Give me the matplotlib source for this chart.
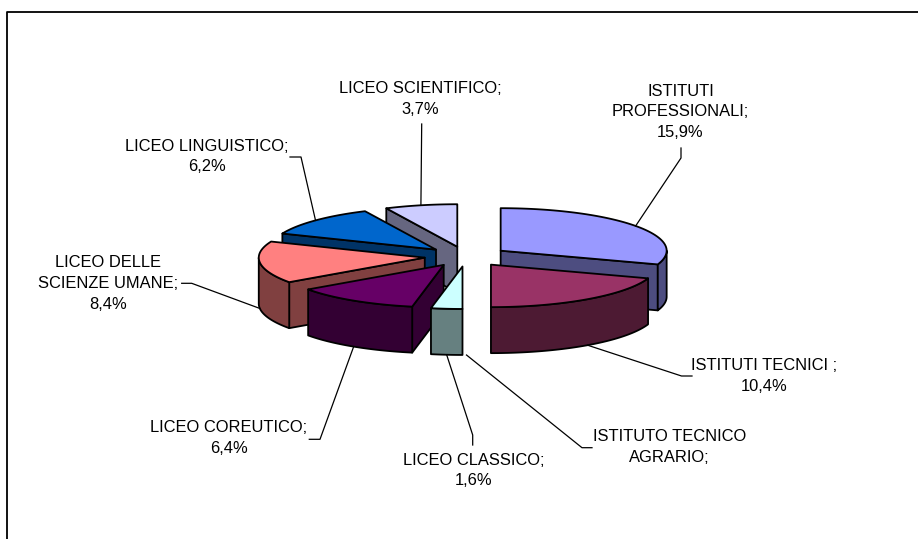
import numpy as np
import matplotlib
matplotlib.use('Agg')
import matplotlib.pyplot as plt
from matplotlib.colors import to_rgb
from matplotlib.patches import Polygon

plt.rcParams['font.family'] = ['Liberation Sans', 'DejaVu Sans']

categories = ['ISTITUTI\nPROFESSIONALI;', 'ISTITUTI TECNICI ;', 'ISTITUTO TECNICO\nAGRARIO;',
              'LICEO CLASSICO;', 'LICEO COREUTICO;', 'LICEO DELLE\nSCIENZE UMANE;',
              'LICEO LINGUISTICO;', 'LICEO SCIENTIFICO;']
values = [15.9, 10.4, 0, 1.6, 6.4, 8.4, 6.2, 3.7]
value_labels = ['15,9%', '10,4%', '', '1,6%', '6,4%', '8,4%', '6,2%', '3,7%']
colors = ['#9999FF', '#993366', '#FFFFCC', '#CCFFFF', '#660066', '#FF8080', '#0066CC', '#CCCCFF']

# pie geometry in pixels
cx, cy = 466.5, 256.5
rx, ry = 166, 42.5
depth = 46
explode_x, explode_y = 42, 10

# label centre and leader elbows, in pixels
label_pos = [(680.5, 112), (764.5, 376), (669.5, 447), (473.3, 470.5),
             (229, 438), (108, 283.5), (206.7, 156.5), (420, 99)]
elbows = [[(681, 158), (681, 148)],
          [(681.5, 376), (692, 376)],
          [(582, 447.7), (592, 447.7)],
          [(472.7, 435), (472.7, 445)],
          [(320, 439.3), (309.3, 439.3)],
          [(191.7, 283.3), (181.7, 283.3)],
          [(301, 157), (290, 157)],
          [(421.7, 124)]]


def arc(a0, a1, ox, oy, n=60):
    t = np.linspace(a0, a1, n)
    return np.column_stack([ox + rx * np.sin(t), oy - ry * np.cos(t)])


def face(ax, pts, col):
    ax.add_patch(Polygon(pts, closed=True, facecolor=col, edgecolor='black', lw=1.3, joinstyle='round'))


fig = plt.figure(figsize=(9.18, 5.39), dpi=100)
ax = fig.add_axes([0, 0, 1, 1])
ax.set_xlim(0, 918)
ax.set_ylim(539, 0)
ax.axis('off')

# chart area border, only left and top show up
ax.plot([7, 7, 918], [539, 12, 12], color='black', lw=1.3, solid_capstyle='butt')

vals = np.array(values, dtype=float)
edges = np.concatenate([[0], np.cumsum(vals)]) / vals.sum() * 2 * np.pi
mids = (edges[:-1] + edges[1:]) / 2
ox = cx + explode_x * np.sin(mids)
oy = cy - explode_y * np.cos(mids)

# back to front
for i in sorted(range(len(vals)), key=lambda k: -np.cos(mids[k])):
    if vals[i] == 0:
        continue
    a0, a1 = edges[i], edges[i + 1]
    top = np.array(to_rgb(colors[i]))
    side = top * 0.5
    rim = arc(a0, a1, ox[i], oy[i])
    apex = (ox[i], oy[i])
    if np.sin(a0) < -1e-6:
        face(ax, [apex, rim[0], rim[0] + (0, depth), (apex[0], apex[1] + depth)], side)
    if np.sin(a1) > 1e-6:
        face(ax, [apex, rim[-1], rim[-1] + (0, depth), (apex[0], apex[1] + depth)], side)
    lo, hi = max(a0, np.pi / 2), min(a1, 3 * np.pi / 2)
    if hi > lo:
        front = arc(lo, hi, ox[i], oy[i])
        face(ax, np.vstack([front, (front + (0, depth))[::-1]]), side)
    face(ax, np.vstack([[apex], rim]), top)

# labels with leader lines
for i in range(len(vals)):
    ax_x = ox[i] + rx * np.sin(mids[i])
    ax_y = oy[i] - ry * np.cos(mids[i])
    if np.cos(mids[i]) < 0:
        ax_y += depth
    pts = [(ax_x, ax_y)] + elbows[i]
    ax.plot([p[0] for p in pts], [p[1] for p in pts], color='black', lw=0.9, zorder=5)
    txt = categories[i] + ('\n' + value_labels[i] if value_labels[i] else '')
    ax.text(label_pos[i][0], label_pos[i][1], txt, ha='center', va='center', fontsize=11.9,
            linespacing=1.47, color='black', zorder=6)

fig.savefig('out.png', dpi=100)
